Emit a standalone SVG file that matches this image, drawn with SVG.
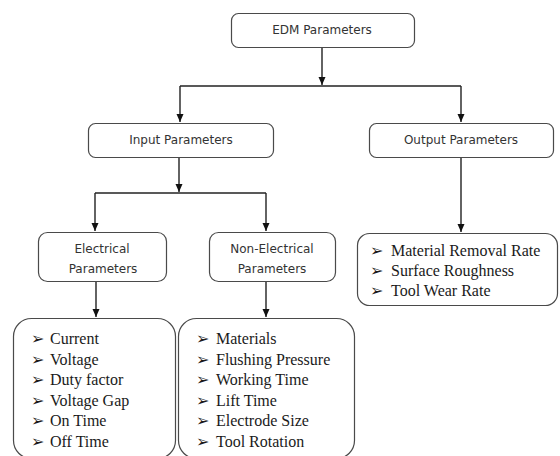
<svg xmlns="http://www.w3.org/2000/svg" width="560" height="456" viewBox="0 0 560 456">
<style>
.box{fill:#fff;stroke:#4a4a4a;stroke-width:1.2}
.lbl{font-family:"DejaVu Sans",sans-serif;font-size:12px;fill:#333;text-anchor:middle}
.item{font-family:"Liberation Serif",serif;font-size:16px;fill:#1a1a1a}
.bul{font-family:"DejaVu Sans",sans-serif;font-size:16px;fill:#1a1a1a}
.conn{fill:none;stroke:#222;stroke-width:1.4}
</style>
<defs>
<marker id="ah" markerUnits="userSpaceOnUse" markerWidth="8" markerHeight="8" refX="8" refY="3.5" orient="auto">
<path d="M0,0 L8,3.5 L0,7 z" fill="#111"/>
</marker>
</defs>
<rect width="560" height="456" fill="#fff"/>
<g id="connectors">
<path class="conn" d="M322,47 V85" marker-end="url(#ah)"/>
<path class="conn" d="M180,86 H461"/>
<path class="conn" d="M180,86 V122" marker-end="url(#ah)"/>
<path class="conn" d="M461,86 V122" marker-end="url(#ah)"/>
<path class="conn" d="M179,157 V192" marker-end="url(#ah)"/>
<path class="conn" d="M95,193 H266"/>
<path class="conn" d="M95,193 V231" marker-end="url(#ah)"/>
<path class="conn" d="M266,193 V231" marker-end="url(#ah)"/>
<path class="conn" d="M96,281 V317" marker-end="url(#ah)"/>
<path class="conn" d="M266,281 V317" marker-end="url(#ah)"/>
<path class="conn" d="M461,157 V232" marker-end="url(#ah)"/>
</g>
<g id="edm">
<rect class="box" x="231.5" y="13.5" width="183" height="34" rx="7"/>
<text class="lbl" x="322" y="34">EDM Parameters</text>
</g>
<g id="input">
<rect class="box" x="88.5" y="123.5" width="185" height="34" rx="7"/>
<text class="lbl" x="181" y="144">Input Parameters</text>
</g>
<g id="output">
<rect class="box" x="369.5" y="123.5" width="184" height="34" rx="7"/>
<text class="lbl" x="461" y="144">Output Parameters</text>
</g>
<g id="electrical">
<rect class="box" x="38.5" y="232.5" width="128" height="49" rx="9"/>
<text class="lbl" x="102" y="253">Electrical</text>
<text class="lbl" x="103" y="273">Parameters</text>
</g>
<g id="nonelectrical">
<rect class="box" x="209.5" y="232.5" width="126" height="49" rx="9"/>
<text class="lbl" x="272" y="253">Non-Electrical</text>
<text class="lbl" x="272" y="273">Parameters</text>
</g>
<g id="outputlist">
<rect class="box" x="357.5" y="233.5" width="200" height="72" rx="12"/>
<text class="bul" x="370" y="256">➢</text><text class="item" x="391" y="256">Material Removal Rate</text>
<text class="bul" x="370" y="276">➢</text><text class="item" x="391" y="276">Surface Roughness</text>
<text class="bul" x="370" y="296">➢</text><text class="item" x="391" y="296">Tool Wear Rate</text>
</g>
<g id="electricallist">
<rect class="box" x="13.5" y="318.5" width="162" height="140" rx="18"/>
<text class="bul" x="31" y="344">➢</text><text class="item" x="50" y="344">Current</text>
<text class="bul" x="31" y="365">➢</text><text class="item" x="50" y="365">Voltage</text>
<text class="bul" x="31" y="385">➢</text><text class="item" x="50" y="385">Duty factor</text>
<text class="bul" x="31" y="406">➢</text><text class="item" x="50" y="406">Voltage Gap</text>
<text class="bul" x="31" y="426">➢</text><text class="item" x="50" y="426">On Time</text>
<text class="bul" x="31" y="447">➢</text><text class="item" x="50" y="447">Off Time</text>
</g>
<g id="nonelectricallist">
<rect class="box" x="178.5" y="318.5" width="176" height="140" rx="18"/>
<text class="bul" x="196" y="344">➢</text><text class="item" x="216" y="344">Materials</text>
<text class="bul" x="196" y="365">➢</text><text class="item" x="216" y="365">Flushing Pressure</text>
<text class="bul" x="196" y="385">➢</text><text class="item" x="216" y="385">Working Time</text>
<text class="bul" x="196" y="406">➢</text><text class="item" x="216" y="406">Lift Time</text>
<text class="bul" x="196" y="426">➢</text><text class="item" x="216" y="426">Electrode Size</text>
<text class="bul" x="196" y="447">➢</text><text class="item" x="216" y="447">Tool Rotation</text>
</g>
</svg>
